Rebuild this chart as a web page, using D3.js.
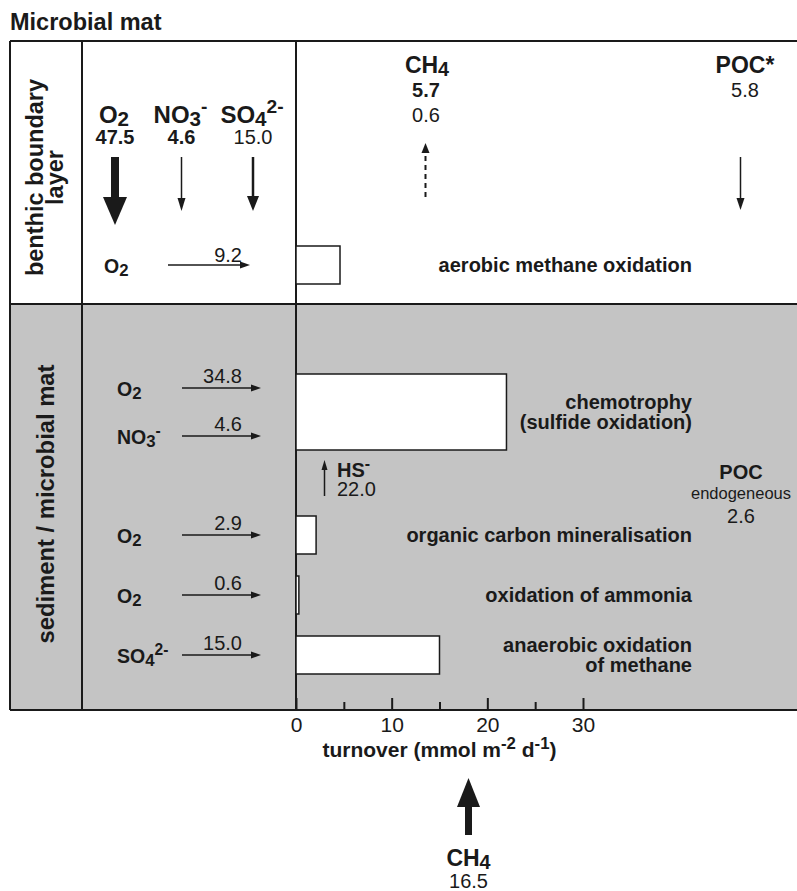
<!DOCTYPE html>
<html><head><meta charset="utf-8">
<script src="https://cdn.jsdelivr.net/npm/d3@7"></script>
<style>
html,body{margin:0;padding:0;background:#fff;}
svg{display:block;font-family:"Liberation Sans",Arial,Helvetica,sans-serif;}
</style></head>
<body><svg id="chart" width="797" height="891"></svg>
<script>
// ---------------- data ----------------
const title = "Microbial mat";
const zoneLabels = [["benthic boundary", "layer"], ["sediment / microbial mat"]];
const processes = [
  ["aerobic methane oxidation"],
  ["chemotrophy", "(sulfide oxidation)"],
  ["organic carbon mineralisation"],
  ["oxidation of ammonia"],
  ["anaerobic oxidation", "of methane"]
];
const turnover = [4.6, 22.0, 2.1, 0.3, 15.0];           // mmol m-2 d-1
const bblSpecies = ["O{_2}", "NO{_3}{^-}", "SO{_4}{^2-}"];
const bblFlux = [47.5, 4.6, 15.0];
const acceptorProcess = [0, 1, 1, 2, 3, 4];
const acceptorSpecies = ["O{_2}", "O{_2}", "NO{_3}{^-}", "O{_2}", "O{_2}", "SO{_4}{^2-}"];
const acceptorFlux = [9.2, 34.8, 4.6, 2.9, 0.6, 15.0];
const methaneRelease = [5.7, 0.6];
const pocExport = 5.8;
const sulfideFlux = 22.0;
const pocEndogenous = 2.6;
const methaneSupply = 16.5;
const majorTicks = [0, 10, 20, 30];
const minorTicks = [5, 15, 25];
const axisTitle = "turnover (mmol m{^-2} d{^-1})";

// ---------------- layout ----------------
const W = 797, H = 891;
const F = {x0: 10, x1: 800, col: 82, y0: 41, ymid: 304, y1: 710};
const ink = "#1a1a1a", gray = "#c4c4c4";
const processRow = [0, 2.45, 4.5, 5.5, 6.5];
const processSpan = [1, 2, 1, 1, 1];
const barH = 38;

const svg = d3.select("#chart");
const x = d3.scaleLinear().domain([0, 30]).range([296, 583]);
const yRow = d3.scaleLinear().domain([0, 6.5]).range([265, 655]);

function rich(sel, str, size) {
  const re = /\{([_^])([^}]*)\}|([^{]+)/g;
  let m, shift = 0;
  while ((m = re.exec(str))) {
    if (m[3]) {
      const t = sel.append("tspan").attr("font-size", size).text(m[3]);
      if (shift) { t.attr("dy", -shift); shift = 0; }
    } else {
      const sub = m[1] === "_";
      const s = sub ? size * 0.14 : -size * 0.4;
      sel.append("tspan").attr("font-size", size * (sub ? 0.86 : 0.8)).attr("dy", s - shift).text(m[2]);
      shift = s;
    }
  }
  return sel;
}
function label(x0, y0, str, size, opts = {}) {
  const t = svg.append("text").attr("x", x0).attr("y", y0)
    .attr("fill", ink)
    .attr("font-weight", opts.bold ? "bold" : "normal")
    .attr("text-anchor", opts.anchor || "start");
  return rich(t, str, size);
}
function arrow(x1, y1, x2, y2, st) {
  const dx = x2 - x1, dy = y2 - y1, L = Math.hypot(dx, dy);
  const ux = dx / L, uy = dy / L;
  const bx = x2 - ux * st.hl, by = y2 - uy * st.hl;
  const line = svg.append("line").attr("x1", x1).attr("y1", y1).attr("x2", bx + ux * 1).attr("y2", by + uy * 1)
    .attr("stroke", ink).attr("stroke-width", st.w);
  if (st.dash) line.attr("stroke-dasharray", st.dash);
  const px = -uy, py = ux;
  svg.append("path")
    .attr("d", d3.line()([[x2, y2], [bx + px * st.hw / 2, by + py * st.hw / 2], [bx - px * st.hw / 2, by - py * st.hw / 2]]) + "Z")
    .attr("fill", ink);
}

// ---------------- frame ----------------
svg.append("rect").attr("x", F.x0).attr("y", F.ymid).attr("width", F.x1 - F.x0).attr("height", F.y1 - F.ymid).attr("fill", gray);
const frameLines = [
  [F.x0, F.y0, F.x1, F.y0], [F.x0, F.ymid, F.x1, F.ymid], [F.x0, F.y1, F.x1, F.y1],
  [F.x0, F.y0, F.x0, F.y1], [F.col, F.y0, F.col, F.y1], [x(0), F.y0, x(0), F.y1]
];
svg.append("g").selectAll("line").data(frameLines).join("line")
  .attr("x1", d => d[0]).attr("y1", d => d[1]).attr("x2", d => d[2]).attr("y2", d => d[3])
  .attr("stroke", ink).attr("stroke-width", 2);

// title
label(10, 30, title, 23.5, {bold: true});

// zone labels (rotated)
const zl1 = svg.append("g").attr("transform", `translate(0,${(F.y0 + F.ymid) / 2 + 5}) rotate(-90)`);
zoneLabels[0].forEach((s, i) => zl1.append("text").attr("x", 0).attr("y", 43 + i * 20)
  .attr("text-anchor", "middle").attr("font-weight", "bold").attr("font-size", 23.5).attr("fill", ink).text(s));
const zl2 = svg.append("g").attr("transform", `translate(0,${(F.ymid + F.y1) / 2 - 3}) rotate(-90)`);
zoneLabels[1].forEach((s) => zl2.append("text").attr("x", 0).attr("y", 54)
  .attr("text-anchor", "middle").attr("font-weight", "bold").attr("font-size", 23.8).attr("fill", ink).text(s));

// ---------------- bars ----------------
svg.append("g").selectAll("rect").data(turnover).join("rect")
  .attr("x", x(0))
  .attr("y", (d, i) => yRow(processRow[i]) - processSpan[i] * barH / 2)
  .attr("width", d => x(d) - x(0))
  .attr("height", (d, i) => processSpan[i] * barH)
  .attr("fill", "#fff").attr("stroke", ink).attr("stroke-width", 1.5);

processes.forEach((lines, i) => {
  const c = yRow(processRow[i]);
  lines.forEach((s, k) => {
    label(692, c + 7 - (lines.length - 1) * 10 + k * 20, s, 20, {bold: true, anchor: "end"});
  });
});

// ---------------- axis ----------------
const axG = svg.append("g").attr("transform", `translate(0,${F.y1})`);
axG.call(d3.axisBottom(x).tickValues(majorTicks).tickSizeInner(-12).tickSizeOuter(0).tickPadding(7));
axG.select(".domain").remove();
axG.selectAll(".tick line").attr("stroke", ink).attr("stroke-width", 2);
axG.selectAll(".tick text").attr("font-size", 21).attr("fill", ink).attr("font-family", "Liberation Sans, Arial, sans-serif");
const axMinor = svg.append("g").attr("transform", `translate(0,${F.y1})`);
axMinor.call(d3.axisBottom(x).tickValues(minorTicks).tickSizeInner(-8).tickSizeOuter(0).tickFormat(""));
axMinor.select(".domain").remove();
axMinor.selectAll(".tick line").attr("stroke", ink).attr("stroke-width", 2);
label((x(0) + x(30)) / 2, 757, axisTitle, 21, {bold: true, anchor: "middle"});

// ---------------- benthic boundary layer inputs ----------------
const bblX = [115, 181.5, 253];
const bblStyle = [{w: 8, hl: 28, hw: 24}, {w: 1.5, hl: 13, hw: 8}, {w: 2.5, hl: 15, hw: 12}];
const bblBold = [true, true, false];
bblSpecies.forEach((s, i) => {
  label(bblX[i] - 1, 123, s, 24, {bold: true, anchor: "middle"});
  label(bblX[i], 144, bblFlux[i].toFixed(1), 20, {bold: bblBold[i], anchor: "middle"});
  arrow(bblX[i], 157, bblX[i], 157 + (i === 0 ? 68 : 54), bblStyle[i]);
});

// ---------------- electron acceptor fluxes ----------------
acceptorFlux.forEach((v, i) => {
  const p = acceptorProcess[i];
  const sib = acceptorProcess.map((q, j) => q === p ? j : -1).filter(j => j >= 0);
  const k = sib.indexOf(i), n = sib.length;
  const yc = yRow(processRow[p]) + (n > 1 ? (k - (n - 1) / 2) * 48 : 0);
  const upper = p === 0;
  label(upper ? 104 : 117, yc + 8, acceptorSpecies[i], 19.5, {bold: true});
  arrow(upper ? 168 : 182, yc, upper ? 250 : 261, yc, {w: 1.3, hl: 10, hw: 7});
  label(242, yc - (upper ? 3 : 5), v.toFixed(1), 20, {anchor: "end"});
});

// ---------------- methane & POC (upper) ----------------
label(427, 73, "CH{_4}", 23, {bold: true, anchor: "middle"});
label(426, 97, methaneRelease[0].toFixed(1), 20, {bold: true, anchor: "middle"});
label(426, 121.7, methaneRelease[1].toFixed(1), 20, {anchor: "middle"});
arrow(425.5, 197, 425.5, 143, {w: 2, hl: 10, hw: 8, dash: "5,4"});

label(745, 73, "POC*", 23, {bold: true, anchor: "middle"});
label(745, 97, pocExport.toFixed(1), 20, {anchor: "middle"});
arrow(740.5, 157, 740.5, 210, {w: 1.5, hl: 12, hw: 8});

// ---------------- sulfide & endogenous POC ----------------
arrow(324.5, 496, 324.5, 460, {w: 1.5, hl: 10, hw: 6});
label(337, 477, "HS{^-}", 20, {bold: true});
label(337, 496, sulfideFlux.toFixed(1), 20);

label(741, 479, "POC", 20, {bold: true, anchor: "middle"});
label(741, 499, "endogeneous", 16.5, {anchor: "middle"});
label(741, 523, pocEndogenous.toFixed(1), 20, {anchor: "middle"});

// ---------------- methane supply (bottom) ----------------
arrow(468.5, 835, 468.5, 778, {w: 7, hl: 29, hw: 23});
label(468.5, 866, "CH{_4}", 23, {bold: true, anchor: "middle"});
label(468.5, 888, methaneSupply.toFixed(1), 20, {anchor: "middle"});
</script></body></html>
